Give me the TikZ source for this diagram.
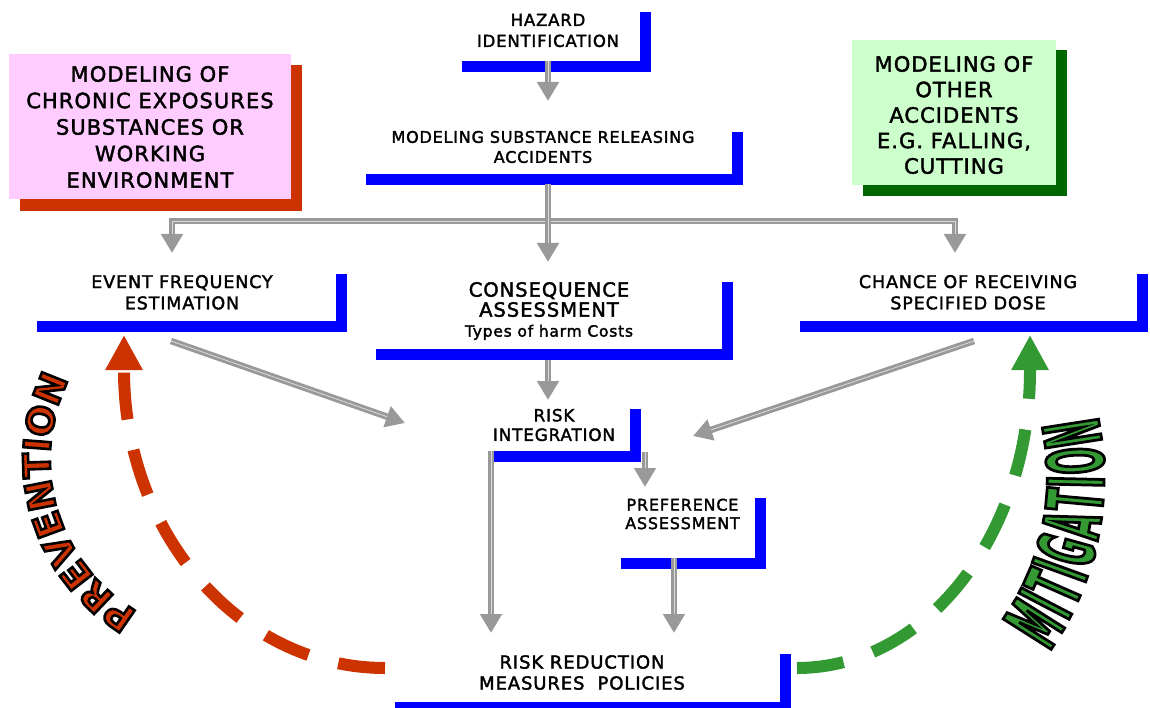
\documentclass[tikz,border=0pt]{standalone}
\usepackage{fontspec}
\usetikzlibrary{arrows.meta,decorations.text}
\pgfdeclarelayer{bg}
\pgfsetlayers{bg,main}
\newfontfamily\lab[LetterSpace=5,FakeBold=2]{DejaVu Sans}
\newfontfamily\pvfont[BoldFeatures={FakeBold=7}]{DejaVu Sans}
\newfontfamily\mtfont[FakeStretch=0.40,BoldFeatures={FakeBold=3.5}]{DejaVu Sans}
\newcommand\setfs[2]{\fontsize{#1}{#2}\selectfont}
\newcommand\blackstroke{\special{pdf:literal direct 0 G}}
\definecolor{lblue}{RGB}{0,0,255}
\definecolor{agray}{RGB}{153,153,153}
\definecolor{pinkfill}{RGB}{255,204,255}
\definecolor{redshadow}{RGB}{204,51,0}
\definecolor{greenfill}{RGB}{204,255,204}
\definecolor{greenshadow}{RGB}{0,102,0}
\definecolor{prevred}{RGB}{204,51,0}
\definecolor{mitgreen}{RGB}{51,153,51}
\begin{document}
\begin{tikzpicture}[x=1pt,y=-1pt,
  txt/.style={inner sep=0pt, align=center, text=black},
  bigtxt/.style={inner sep=0pt, align=center, text=black, font=\lab\setfs{21}{26.5}},
  lbar/.style={draw=lblue, line width=11pt, line join=miter, line cap=butt},
  garrow/.style={draw=agray, line width=6.5pt, line cap=butt, line join=miter,
    -{Triangle[width=21pt,length=19pt]},
    postaction={draw=agray!35, line width=0.8pt, -, shorten >=19pt}},
  garrowb/.style={draw=agray, line width=6.5pt, line cap=butt, line join=miter,
    {Triangle[width=21pt,length=19pt]}-{Triangle[width=21pt,length=19pt]},
    postaction={draw=agray!35, line width=0.8pt, -, shorten >=19pt, shorten <=19pt}},
  prevarc/.style={draw=prevred, line width=12pt, line cap=butt, dash pattern=on 47pt off 31pt,
    -{Triangle[width=35pt,length=35pt]}},
  mitarc/.style={draw=mitgreen, line width=12pt, line cap=butt, dash pattern=on 47pt off 31pt,
    -{Triangle[width=35pt,length=35pt]}},
]
\useasboundingbox (0,0) rectangle (1150,708);
\begin{pgfonlayer}{bg}
\fill[white] (0,0) rectangle (1150,708);
\end{pgfonlayer}

% side boxes
\node[fill=pinkfill, inner sep=0pt, minimum width=282pt, minimum height=145pt] (pink) at (150,126.5) {};
\node[bigtxt] (pinktext) at (150,127) {MODELING OF\\CHRONIC EXPOSURES\\SUBSTANCES OR\\WORKING\\ENVIRONMENT};
\node[fill=greenfill, inner sep=0pt, minimum width=204pt, minimum height=145pt] (green) at (954,112.5) {};
\node[bigtxt, font=\lab\setfs{21}{25.5}] (greentext) at (954,115) {MODELING OF\\OTHER\\ACCIDENTS\\E.G. FALLING,\\CUTTING};
\begin{pgfonlayer}{bg}
\fill[redshadow] ([shift={(11,11.5)}]pink.south west) rectangle ([shift={(11,11.5)}]pink.north east);
\fill[greenshadow] ([shift={(11,10.5)}]green.south west) rectangle ([shift={(11,10.5)}]green.north east);
\end{pgfonlayer}

% blue L bars
\draw[lbar] (462,66.5) -- (645.5,66.5) -- (645.5,12);
\draw[lbar] (366,179.5) -- (737.5,179.5) -- (737.5,132);
\draw[lbar] (37,326.5) -- (341.5,326.5) -- (341.5,274);
\draw[lbar] (376,354.5) -- (727.5,354.5) -- (727.5,282);
\draw[lbar] (800,326.5) -- (1142.5,326.5) -- (1142.5,274);
\draw[lbar] (490,456.5) -- (635.5,456.5) -- (635.5,409);
\draw[lbar] (621,563.5) -- (760.5,563.5) -- (760.5,498);
\draw[lbar] (395,707.5) -- (785.5,707.5) -- (785.5,654);

% labels
\node[txt, font=\lab\setfs{16.5}{21}] (hz) at (548,30.5) {HAZARD\\IDENTIFICATION};
\node[txt, font=\lab\setfs{16}{20}] (msr) at (543,147) {MODELING SUBSTANCE RELEASING\\ACCIDENTS};
\node[txt, font=\lab\setfs{17.5}{21.3}] (evf) at (182,292.3) {EVENT FREQUENCY\\ESTIMATION};
\node[txt, font=\lab\setfs{19.5}{20}] (con) at (549,311) {CONSEQUENCE\\ASSESSMENT\\{\setfs{15.5}{20}Types of harm Costs}};
\node[txt, font=\lab\setfs{17.5}{21.3}] (cha) at (968,292.3) {CHANCE OF RECEIVING\\SPECIFIED DOSE};
\node[txt, font=\lab\setfs{16.8}{19.5}] (ri) at (554,425) {RISK\\INTEGRATION};
\node[txt, font=\lab\setfs{16}{18.5}] (pa) at (682.5,514) {PREFERENCE\\ASSESSMENT};
\node[txt, font=\lab\setfs{18}{21}] (rr) at (582,672.5) {RISK REDUCTION\\MEASURES\hspace{13pt}POLICIES};

% connector ends
\coordinate (hzO) at (548,61);
\coordinate (msrI) at (548,101);
\coordinate (msrO) at (548,184);
\coordinate (conI) at (548,262);
\coordinate (dL) at (172,221);
\coordinate (dR) at (955,221);
\coordinate (evfI) at (172,253);
\coordinate (chaI) at (955,253);
\coordinate (evfO) at (171,341);
\coordinate (riIL) at (405,423);
\coordinate (chaO) at (974,341);
\coordinate (riIR) at (693,436);
\coordinate (conO) at (548,360);
\coordinate (riIT) at (548,400);
\coordinate (riO1) at (491,451);
\coordinate (rrI1) at (491,633);
\coordinate (riO2) at (645,452);
\coordinate (paI) at (645,487);
\coordinate (paO) at (674,558);
\coordinate (rrI2) at (674,633);

% gray arrows
\draw[garrow] (hzO) -- (msrI);
\draw[garrowb] (evfI) -- (dL) -- (dR) -- (chaI);
\draw[garrow] (msrO) -- (conI);
\draw[garrow] (evfO) -- (riIL);
\draw[garrow] (chaO) -- (riIR);
\draw[garrow] (conO) -- (riIT);
\draw[garrow] (riO1) -- (rrI1);
\draw[garrow] (riO2) -- (paI);
\draw[garrow] (paO) -- (rrI2);

% dashed feedback arcs
\coordinate (prevS) at (385,668);
\coordinate (prevE) at (124,335);
\coordinate (mitS) at (797,668);
\coordinate (mitE) at (1030,335);
\draw[prevarc] (prevS) .. controls (241,668) and (124,535) .. (124,370) -- (prevE);
\draw[mitarc] (mitS) .. controls (926,668) and (1030,535) .. (1030,370) -- (mitE);

% curved words (fill in colour, outline stroked in black)
\coordinate (pvc) at (227,459);
\coordinate (mtc) at (801,478);
\path[decorate, decoration={text along path, text align=center,
  text={|\color{prevred}\blackstroke\pvfont\bfseries\setfs{37}{37}|PREVENTION}}]
  (pvc) ++(110:177) arc[start angle=110, end angle=217, radius=177];
\path[decorate, decoration={text along path, text align=center,
  text={|\color{mitgreen}\blackstroke\mtfont\bfseries\setfs{78}{78}\kern4pt|MITIGATION}}]
  (mtc) ++(55:303) arc[start angle=55, end angle=-31, radius=303];
\end{tikzpicture}
\end{document}
